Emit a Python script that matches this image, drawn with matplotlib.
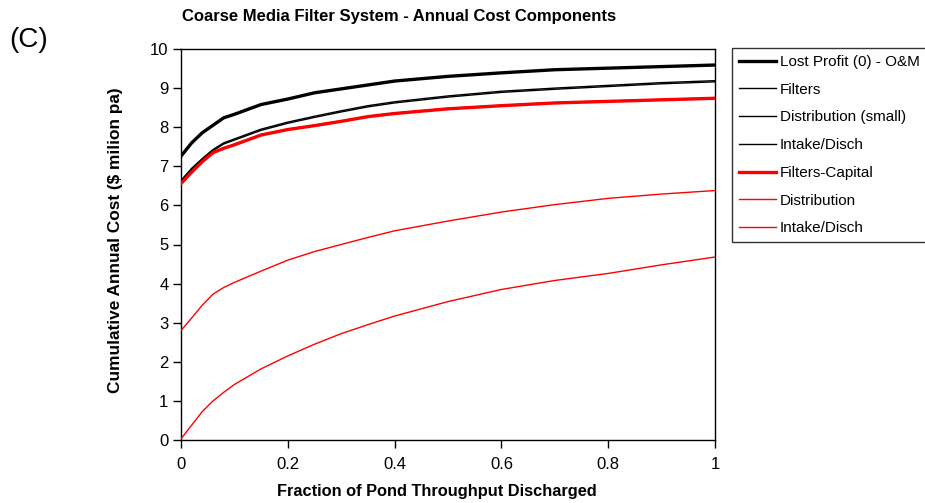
import matplotlib
matplotlib.use("Agg")
import matplotlib.pyplot as plt

plt.rcParams['font.family'] = ['Liberation Sans', 'DejaVu Sans']

x = [0, 0.02, 0.04, 0.06, 0.08, 0.1, 0.15, 0.2, 0.25, 0.3, 0.35, 0.4, 0.5, 0.6, 0.7, 0.8, 0.9, 1.0]

lost_profit = [7.26, 7.60, 7.86, 8.05, 8.24, 8.33, 8.58, 8.72, 8.88, 8.98, 9.08, 9.18, 9.30, 9.39, 9.47, 9.51, 9.55, 9.59]
filters_om = [6.64, 6.95, 7.20, 7.43, 7.60, 7.70, 7.95, 8.13, 8.28, 8.42, 8.55, 8.65, 8.80, 8.92, 9.00, 9.07, 9.14, 9.19]
distribution_small = [6.62, 6.92, 7.17, 7.40, 7.57, 7.67, 7.92, 8.10, 8.25, 8.39, 8.52, 8.62, 8.77, 8.89, 8.97, 9.04, 9.11, 9.16]
intake_om = [6.57, 6.86, 7.13, 7.36, 7.47, 7.56, 7.81, 7.95, 8.05, 8.16, 8.28, 8.36, 8.48, 8.56, 8.63, 8.67, 8.71, 8.75]
filters_capital = [6.56, 6.85, 7.12, 7.35, 7.46, 7.55, 7.80, 7.94, 8.04, 8.15, 8.27, 8.35, 8.47, 8.55, 8.62, 8.66, 8.70, 8.74]
distribution = [2.80, 3.12, 3.45, 3.73, 3.90, 4.03, 4.32, 4.60, 4.82, 5.00, 5.18, 5.35, 5.60, 5.83, 6.02, 6.18, 6.29, 6.38]
intake = [0.03, 0.38, 0.73, 1.00, 1.22, 1.42, 1.82, 2.15, 2.45, 2.72, 2.95, 3.17, 3.54, 3.85, 4.08, 4.26, 4.48, 4.68]

labels = ["Lost Profit (0) - O&M", "Filters", "Distribution (small)", "Intake/Disch",
          "Filters-Capital", "Distribution", "Intake/Disch"]

fig = plt.figure(figsize=(9.25, 5.03), dpi=100)
ax = fig.add_axes([181/925, 63/503, 534/925, 391/503])

series = [lost_profit, filters_om, distribution_small, intake_om, filters_capital, distribution, intake]
colors = ['black', 'black', 'black', 'black', 'red', 'red', 'red']
widths = [2.4, 1.0, 1.0, 1.0, 2.4, 1.0, 1.0]
zorders = [5, 4, 4, 3, 6, 6, 6]
handles = []
for s, c, w, z, lab in zip(series, colors, widths, zorders, labels):
    h, = ax.plot(x, s, color=c, lw=w, zorder=z, label=lab)
    handles.append(h)

ax.set_xlim(0, 1)
ax.set_ylim(0, 10)
ax.set_xticks([0, 0.2, 0.4, 0.6, 0.8, 1.0])
ax.set_xticklabels(['0', '0.2', '0.4', '0.6', '0.8', '1'])
ax.set_yticks(range(0, 11))
ax.tick_params(direction='out', length=6, width=1, labelsize=12)
ax.tick_params(axis='x', pad=6)
ax.tick_params(axis='y', pad=3)
for sp in ax.spines.values():
    sp.set_linewidth(1.0)
    sp.set_color('black')

ax.set_xlabel("Fraction of Pond Throughput Discharged", fontsize=11.8, fontweight='bold')
ax.xaxis.set_label_coords((437 - 181) / 534, -(484 - 440) / 391)
ax.set_ylabel("Cumulative Annual Cost ($ milion pa)", fontsize=12.4, fontweight='bold')
ax.yaxis.set_label_coords(-(181 - 123) / 534, 0.51)

fig.text(399/925, 1 - 16/503, "Coarse Media Filter System - Annual Cost Components",
         ha='center', va='center', fontsize=12, fontweight='bold')
fig.text(9/925, 1 - 40/503, "(C)", ha='left', va='center', fontsize=20)

leg = ax.legend(handles=handles, loc='upper left', bbox_to_anchor=((732 - 181) / 534, (440 - 48) / 391),
                borderaxespad=0, frameon=True, fancybox=False, fontsize=11,
                handlelength=2.4, handletextpad=0.28, labelspacing=0.9, borderpad=0.45)
leg.get_frame().set_edgecolor('black')
leg.get_frame().set_linewidth(1.0)

fig.savefig("out.png", dpi=100)
